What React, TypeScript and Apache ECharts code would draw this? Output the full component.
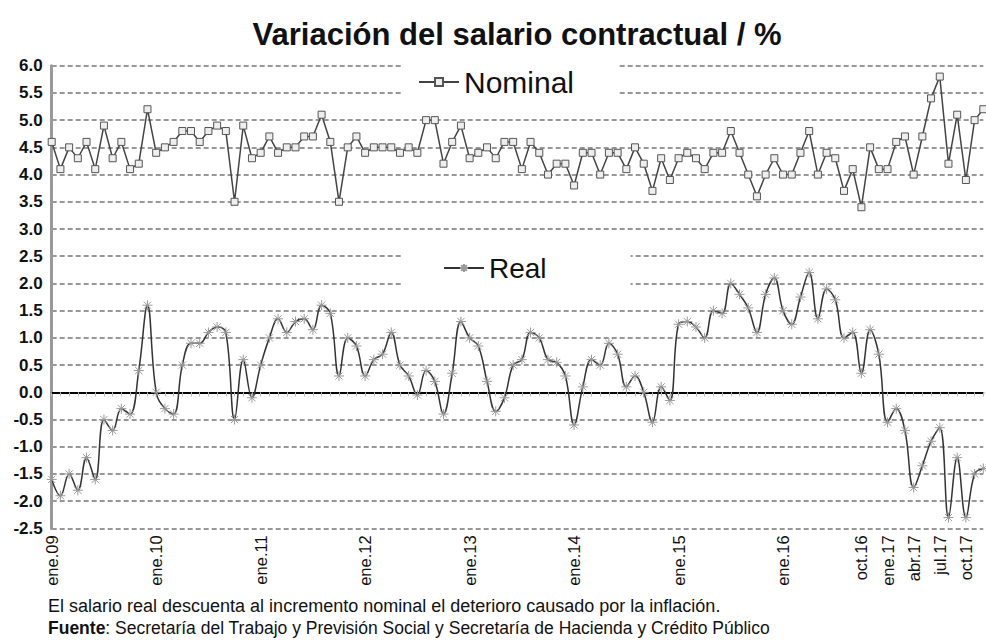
import React, { useEffect, useRef } from "react";
import * as echarts from "echarts";

const months = ["ene", "feb", "mar", "abr", "may", "jun", "jul", "ago", "sep", "oct", "nov", "dic"];
const years = ["09", "10", "11", "12", "13", "14", "15", "16", "17"];
const categories = years.flatMap((y) => months.map((m) => `${m}.${y}`));
const labelledCategories = [
  "ene.09", "ene.10", "ene.11", "ene.12", "ene.13", "ene.14", "ene.15", "ene.16",
  "oct.16", "ene.17", "abr.17", "jul.17", "oct.17",
];

const nominal = [
  4.6, 4.1, 4.5, 4.3, 4.6, 4.1, 4.9, 4.3, 4.6, 4.1, 4.2, 5.2,
  4.4, 4.5, 4.6, 4.8, 4.8, 4.6, 4.8, 4.9, 4.8, 3.5, 4.9, 4.3,
  4.4, 4.7, 4.4, 4.5, 4.5, 4.7, 4.7, 5.1, 4.6, 3.5, 4.5, 4.7,
  4.4, 4.5, 4.5, 4.5, 4.4, 4.5, 4.4, 5.0, 5.0, 4.2, 4.6, 4.9,
  4.3, 4.4, 4.5, 4.3, 4.6, 4.6, 4.1, 4.6, 4.4, 4.0, 4.2, 4.2,
  3.8, 4.4, 4.4, 4.0, 4.4, 4.4, 4.1, 4.5, 4.2, 3.7, 4.3, 3.9,
  4.3, 4.4, 4.3, 4.1, 4.4, 4.4, 4.8, 4.4, 4.0, 3.6, 4.0, 4.3,
  4.0, 4.0, 4.4, 4.8, 4.0, 4.4, 4.3, 3.7, 4.1, 3.4, 4.5, 4.1,
  4.1, 4.6, 4.7, 4.0, 4.7, 5.4, 5.8, 4.2, 5.1, 3.9, 5.0, 5.2,
];

const real = [
  -1.6, -1.9, -1.5, -1.8, -1.2, -1.6, -0.5, -0.7, -0.3, -0.4, 0.4, 1.6,
  0.0, -0.3, -0.4, 0.5, 0.9, 0.9, 1.1, 1.2, 1.1, -0.5, 0.6, -0.1,
  0.5, 1.0, 1.35, 1.1, 1.3, 1.35, 1.15, 1.6, 1.45, 0.3, 1.0, 0.85,
  0.3, 0.6, 0.7, 1.1, 0.5, 0.3, -0.05, 0.4, 0.2, -0.4, 0.35, 1.3,
  1.0, 0.85, 0.2, -0.35, -0.1, 0.5, 0.6, 1.1, 1.0, 0.6, 0.55, 0.3,
  -0.6, 0.1, 0.6, 0.5, 0.9, 0.7, 0.1, 0.3, 0.0, -0.55, 0.1, -0.15,
  1.25, 1.3, 1.2, 1.0, 1.5, 1.45, 2.0, 1.8, 1.55, 1.1, 1.8, 2.1,
  1.5, 1.25, 1.75, 2.2, 1.35, 1.9, 1.7, 1.0, 1.1, 0.35, 1.15, 0.7,
  -0.55, -0.3, -0.7, -1.75, -1.35, -0.9, -0.65, -2.3, -1.2, -2.3, -1.5, -1.4,
];

const titleText = "Variación del salario contractual / %";
const noteText = "El salario real descuenta al incremento nominal el deterioro causado por la inflación.";
const sourceLabel = "Fuente";
const sourceText = ": Secretaría del Trabajo y Previsión Social y Secretaría de Hacienda y Crédito Público";

const FONT = '"Liberation Sans", Arial, sans-serif';
const STAR = "path://M0,-5L0,5M-5,0L5,0M-3.6,-3.6L3.6,3.6M-3.6,3.6L3.6,-3.6";

export default function App() {
  const ref = useRef<HTMLDivElement>(null);
  useEffect(() => {
    if (!ref.current) return;
    const chart = echarts.init(ref.current, undefined, { renderer: "svg" });
    const grid = { left: 51.7, top: 65.7, width: 931.6, height: 462.7 };
    chart.setOption({
      animation: false,
      backgroundColor: "#fff",
      textStyle: { fontFamily: FONT },
      grid,
      xAxis: [
        {
          type: "category",
          data: categories,
          boundaryGap: false,
          position: "bottom",
          axisLine: { show: false, onZero: false },
          axisTick: { show: false },
          splitLine: { show: false },
          axisLabel: {
            rotate: 90,
            interval: (_i: number, v: string) => labelledCategories.includes(v),
            color: "#111",
            fontSize: 16.5,
            fontFamily: FONT,
            margin: 7,
          },
        },
        {
          type: "category",
          data: categories,
          boundaryGap: false,
          position: "bottom",
          axisLine: { show: true, onZero: true, lineStyle: { color: "#000", width: 2 } },
          axisTick: { show: true, interval: 0, length: 4, lineStyle: { color: "#bbb", width: 1 } },
          axisLabel: { show: false },
          splitLine: { show: false },
        },
      ],
      yAxis: {
        type: "value",
        min: -2.5,
        max: 6,
        interval: 0.5,
        axisLine: { show: true, lineStyle: { color: "#999", width: 3 } },
        axisTick: { show: false },
        axisLabel: {
          formatter: (v: number) => v.toFixed(1),
          color: "#111",
          fontWeight: "bold",
          fontSize: 17,
          fontFamily: FONT,
          margin: 9,
        },
        splitLine: { show: true, lineStyle: { color: "#777", width: 1.5, type: [5, 3] } },
      },
      legend: [
        {
          data: ["Nominal"],
          left: 402,
          top: 57,
          backgroundColor: "#fff",
          padding: [10, 45, 10, 16],
          itemWidth: 40,
          itemHeight: 10,
          itemGap: 5,
          textStyle: { fontSize: 30, color: "#111", fontFamily: FONT },
        },
        {
          data: ["Real"],
          left: 402,
          top: 244,
          backgroundColor: "#fff",
          padding: [10, 84, 10, 41],
          itemWidth: 40,
          itemHeight: 10,
          textStyle: { fontSize: 28, color: "#111", fontFamily: FONT },
        },
      ],
      graphic: [
        {
          type: "text",
          x: 517,
          y: 34,
          style: {
            text: titleText,
            fontSize: 31,
            fontWeight: "bold",
            fontFamily: FONT,
            fill: "#111",
            align: "center",
            verticalAlign: "middle",
          },
        },
        {
          type: "text",
          x: 48,
          y: 606,
          style: {
            text: noteText,
            fontSize: 18,
            fontFamily: FONT,
            fill: "#111",
            verticalAlign: "middle",
          },
        },
        {
          type: "text",
          x: 48,
          y: 628,
          style: {
            text: `{b|${sourceLabel}}${sourceText}`,
            fontSize: 17.5,
            fontFamily: FONT,
            fill: "#111",
            verticalAlign: "middle",
            rich: { b: { fontWeight: "bold", fontSize: 17.5, fontFamily: FONT, fill: "#111" } },
          },
        },
      ],
      series: [
        {
          name: "Nominal",
          type: "line",
          data: nominal,
          symbol: "rect",
          symbolSize: 7,
          showAllSymbol: true,
          lineStyle: { color: "#444", width: 1.5 },
          itemStyle: { color: "#eee", borderColor: "#555", borderWidth: 1 },
        },
        {
          name: "Real",
          type: "line",
          data: real,
          smooth: 0.4,
          symbol: STAR,
          symbolSize: 10,
          showAllSymbol: true,
          lineStyle: { color: "#333", width: 1.5 },
          itemStyle: { color: "rgba(0,0,0,0)", borderColor: "#999", borderWidth: 1 },
        },
      ],
    });
    return () => chart.dispose();
  }, []);
  return (
    <div
      ref={ref}
      style={{ position: "absolute", left: 0, top: 0, width: 986, height: 643, background: "#fff" }}
    />
  );
}
